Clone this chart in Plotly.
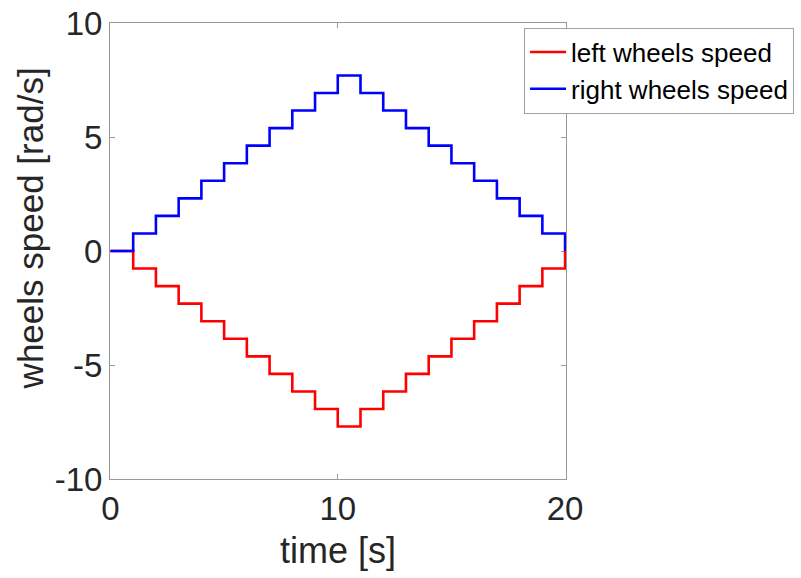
import plotly.graph_objects as go

time_s = list(range(0, 21))
right_speed = [0.0, 0.77, 1.54, 2.31, 3.08, 3.85, 4.62, 5.39, 6.16, 6.93, 7.70,
               6.93, 6.16, 5.39, 4.62, 3.85, 3.08, 2.31, 1.54, 0.77, 0.0]
left_speed = [-v for v in right_speed]

x_ticks = [0, 10, 20]
y_ticks = [-10, -5, 0, 5, 10]

font_family = "Liberation Sans, Arial, Helvetica, sans-serif"
text_color = "#262626"
axis_color = "#999999"

fig = go.Figure()
fig.add_trace(go.Scatter(x=time_s, y=left_speed, mode="lines", line_shape="hv",
                         line=dict(color="#ff0000", width=2.6), name="left wheels speed"))
fig.add_trace(go.Scatter(x=time_s, y=right_speed, mode="lines", line_shape="hv",
                         line=dict(color="#0000ff", width=2.6), name="right wheels speed"))

fig.update_layout(
    width=801, height=578,
    margin=dict(l=110, r=235, t=23, b=99, autoexpand=False),
    plot_bgcolor="white", paper_bgcolor="white",
    font=dict(family=font_family, color=text_color),
    showlegend=True,
    legend=dict(x=0.908, y=0.99, xanchor="left", yanchor="top",
                bgcolor="white", bordercolor="#a0a0a0", borderwidth=1,
                font=dict(size=26, color="#000000"),
                tracegroupgap=0, itemwidth=36),
    annotations=[dict(text="wheels speed [rad/s]", xref="paper", yref="paper",
                      x=-0.175, y=0.55, xanchor="center", yanchor="middle",
                      textangle=-90, showarrow=False,
                      font=dict(size=35, color=text_color))],
)
fig.update_xaxes(range=[-0.02, 20.04], tickvals=x_ticks, ticktext=[str(v) for v in x_ticks],
                 showgrid=False, zeroline=False, showline=True, linecolor=axis_color,
                 linewidth=1, mirror="ticks", ticks="inside", ticklen=5,
                 tickcolor=axis_color, tickfont=dict(size=33), layer="below traces",
                 title=dict(text="time [s]", font=dict(size=36), standoff=12))
fig.update_yaxes(range=[-10, 10], tickvals=y_ticks, ticktext=[str(v) for v in y_ticks],
                 showgrid=False, zeroline=False, showline=True, linecolor=axis_color,
                 linewidth=1, mirror="ticks", ticks="inside", ticklen=5,
                 tickcolor=axis_color, tickfont=dict(size=33), layer="below traces")

fig.write_html("out.html")
